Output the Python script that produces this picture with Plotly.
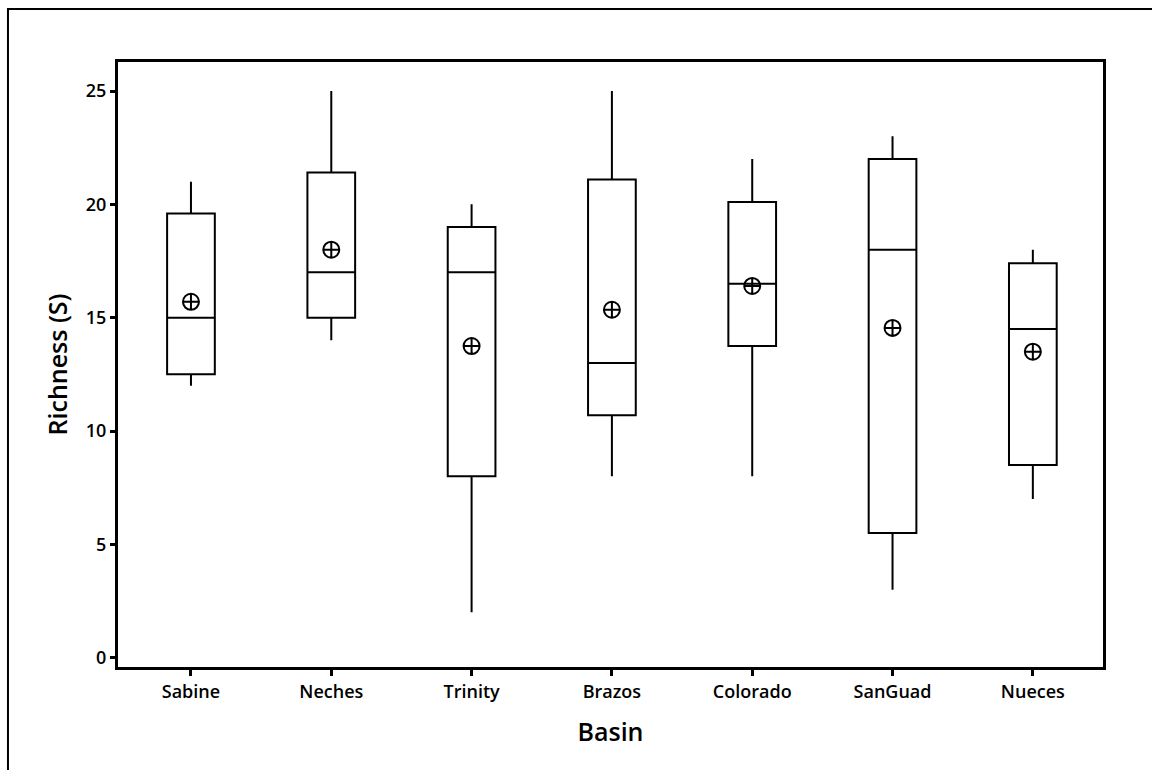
import plotly.graph_objects as go

basins = ["Sabine", "Neches", "Trinity", "Brazos", "Colorado", "SanGuad", "Nueces"]
whisker_low = [12, 14, 2, 8, 8, 3, 7]
q1 = [12.5, 15, 8, 10.7, 13.75, 5.5, 8.5]
median = [15, 17, 17, 13, 16.5, 18, 14.5]
q3 = [19.6, 21.4, 19, 21.1, 20.1, 22, 17.4]
whisker_high = [21, 25, 20, 25, 22, 23, 18]
mean = [15.7, 18, 13.75, 15.35, 16.4, 14.55, 13.5]
yticks = [0, 5, 10, 15, 20, 25]

xpos = list(range(len(basins)))

fig = go.Figure()
fig.add_trace(go.Box(
    x=xpos, q1=q1, median=median, q3=q3,
    lowerfence=whisker_low, upperfence=whisker_high,
    width=0.34, fillcolor="rgba(255,255,255,0)",
    line=dict(color="black", width=2),
    whiskerwidth=0, showlegend=False, boxpoints=False,
))
fig.add_trace(go.Scatter(
    x=xpos, y=mean, mode="markers",
    marker=dict(symbol="circle-cross-open", size=16, color="black",
                line=dict(color="black", width=2)),
    showlegend=False,
))

tickfont = dict(family="Open Sans", size=18, color="black", weight=600)
titlefont = dict(family="Open Sans", size=25, color="black", weight=600)

fig.update_layout(
    width=1152, height=770,
    margin=dict(l=118, r=49, t=62, b=103),
    paper_bgcolor="white", plot_bgcolor="white",
    xaxis=dict(
        range=[-0.52, 6.5], tickmode="array", tickvals=xpos, ticktext=basins,
        showgrid=False, zeroline=False, showline=True, linecolor="black",
        linewidth=3, mirror=True, ticks="outside", ticklen=6, tickwidth=3,
        tickcolor="black", tickfont=tickfont,
        title=dict(text="Basin", font=titlefont, standoff=22),
    ),
    yaxis=dict(
        range=[-0.41, 26.28], tickmode="array", tickvals=yticks,
        showgrid=False, zeroline=False, showline=True, linecolor="black",
        linewidth=3, mirror=True, ticks="outside", ticklen=5, tickwidth=3,
        tickcolor="black", tickfont=tickfont,
        title=dict(text="Richness (S)", font=titlefont, standoff=12),
    ),
    shapes=[dict(type="rect", xref="paper", yref="paper",
                 x0=-0.1117, x1=1.3, y0=-0.4, y1=1.0876,
                 line=dict(color="black", width=2), layer="below")],
)

fig.write_html("out.html")
